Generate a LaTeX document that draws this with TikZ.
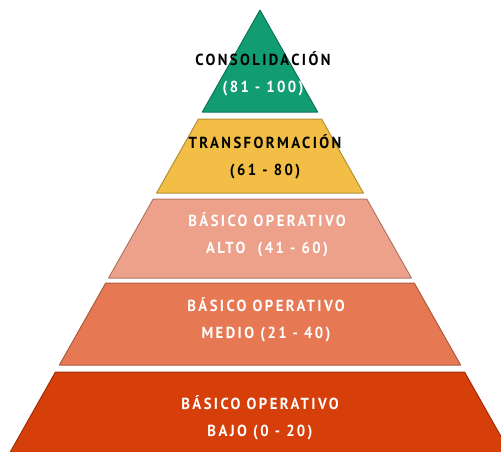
\documentclass[tikz,border=0pt]{standalone}
\usepackage{fontspec}
\newfontfamily\bandfont[FakeStretch=0.92,LetterSpace=15]{PT Sans}
\definecolor{consol}{HTML}{119C72}
\definecolor{transf}{HTML}{F2BE45}
\definecolor{alto}{HTML}{EDA08A}
\definecolor{medio}{HTML}{E67853}
\definecolor{bajo}{HTML}{D63E0A}

\begin{document}
\begin{tikzpicture}[x=1pt,y=-1pt,
      band label/.style={font=\bandfont\bfseries\fontsize{16}{27}\selectfont,
        align=center,text=white}]
 \useasboundingbox (0,0) rectangle (501,451);
 \clip (0,0) rectangle (501,451);
 % bands of the pyramid, apex at (260,10)
 \foreach \top/\bot/\col in {10/112/consol,119/193/transf,199/278/alto,283/365/medio,372/470/bajo}
   \filldraw[fill=\col,draw=\col!75!black,line width=1pt,line join=round]
     ({260-0.565*(\top-10)},\top) -- ({260+0.565*(\top-10)},\top)
     -- ({260+0.565*(\bot-10)},\bot) -- ({260-0.565*(\bot-10)},\bot) -- cycle;

 \node[band label] (consolidacion) at (263,74) {\textcolor{black}{CONSOLIDACIÓN}\\(81 - 100)};
 \node[band label, text=black] (transformacion) at (265,157) {TRANSFORMACIÓN\\(61 - 80)};
 \node[band label] (alto) at (267,235) {BÁSICO OPERATIVO\\ALTO\ \ (41 - 60)};
 \node[band label] (medio) at (266,320) {BÁSICO OPERATIVO\\MEDIO (21 - 40)};
 \node[band label] (bajo) at (260,418) {BÁSICO OPERATIVO\\BAJO (0 - 20)};
\end{tikzpicture}
\end{document}
